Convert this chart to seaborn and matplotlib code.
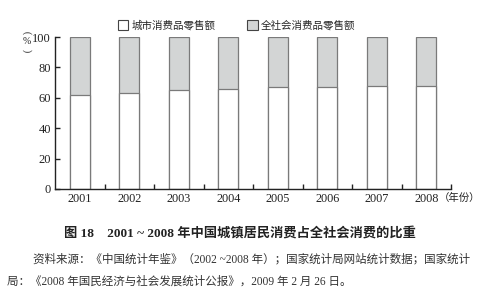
import matplotlib
matplotlib.use("Agg")
import matplotlib.pyplot as plt
from matplotlib.patches import Patch
from matplotlib.ticker import FixedLocator
import seaborn as sns
import pandas as pd

sns.set_style("ticks")
plt.rcParams['font.family'] = ['Liberation Serif', 'Noto Sans CJK SC']

years = ["2001", "2002", "2003", "2004", "2005", "2006", "2007", "2008"]
urban_share = [61.8, 63.3, 64.9, 65.6, 66.8, 67.3, 67.6, 67.6]
total_share = [100, 100, 100, 100, 100, 100, 100, 100]
series_names = ["城市消费品零售额", "全社会消费品零售额"]
y_ticks = [0, 20, 40, 60, 80, 100]

df = pd.DataFrame({"year": years, "urban": urban_share, "total": total_share})

gray = "#d3d5d5"
edge = "#7a7a7a"
ink = "#222222"

fig = plt.figure(figsize=(4.8, 2.96), dpi=100)
ax = fig.add_axes([0.1146, 0.3615, 0.825, 0.5135])

sns.barplot(data=df, x="year", y="total", color=gray, saturation=1,
            width=0.4, edgecolor=edge, linewidth=0.9, ax=ax)
sns.barplot(data=df, x="year", y="urban", color="white", saturation=1,
            width=0.4, edgecolor=edge, linewidth=0.9, ax=ax)

ax.set_xlim(-0.5, len(years) - 0.5)
ax.set_ylim(0, 100)
ax.set_yticks(y_ticks)
ax.set_xlabel("")
ax.set_ylabel("")
sns.despine(ax=ax)
for s in ("left", "bottom"):
    ax.spines[s].set_color(ink)
    ax.spines[s].set_linewidth(1.0)

# category labels without ticks; separators between groups
ax.tick_params(axis="x", which="major", length=0, pad=3, labelsize=8.8, colors=ink)
ax.xaxis.set_minor_locator(FixedLocator([i + 0.5 for i in range(len(years))]))
ax.tick_params(axis="x", which="minor", direction="in", length=3.5, width=1.0, color=ink)
ax.tick_params(axis="y", direction="in", length=3.5, width=1.0, labelsize=9,
               colors=ink, pad=3)

# unit of the x axis after the last year label
ax.text(len(years) - 1 + 0.25, -2.5, "（年份）", ha="left", va="top",
        fontsize=7.5, color=ink)

# vertical unit label for the y axis: turned parentheses around an upright %
ux = 0.056
fig.text(ux, 1 - 33 / 296, "(", rotation=-90, ha="center", va="center",
         fontsize=7, color=ink)
fig.text(ux, 1 - 42 / 296, "%", ha="center", va="center", fontsize=7, color=ink)
fig.text(ux, 1 - 51 / 296, ")", rotation=-90, ha="center", va="center",
         fontsize=7, color=ink)

handles = [Patch(facecolor="white", edgecolor="#444444", linewidth=0.8),
           Patch(facecolor=gray, edgecolor="#444444", linewidth=0.8)]
fig.legend(handles, series_names, loc="center", bbox_to_anchor=(0.493, 0.915),
           ncol=2, frameon=False, fontsize=7.6, handlelength=1.0,
           handleheight=1.0, handletextpad=0.3, columnspacing=3.0)

fig.text(0.5, 0.213, "图 18　2001 ~ 2008 年中国城镇居民消费占全社会消费的比重",
         ha="center", va="center", fontsize=9.5, fontweight="bold", color=ink)
fig.text(0.069, 0.122,
         "资料来源：《中国统计年鉴》（2002 ~2008 年）；国家统计局网站统计数据；国家统计",
         ha="left", va="center", fontsize=8.3, color="#333333")
fig.text(0.014, 0.048,
         "局：《2008 年国民经济与社会发展统计公报》，2009 年 2 月 26 日。",
         ha="left", va="center", fontsize=8.3, color="#333333")

fig.savefig("out.png", dpi=100)
